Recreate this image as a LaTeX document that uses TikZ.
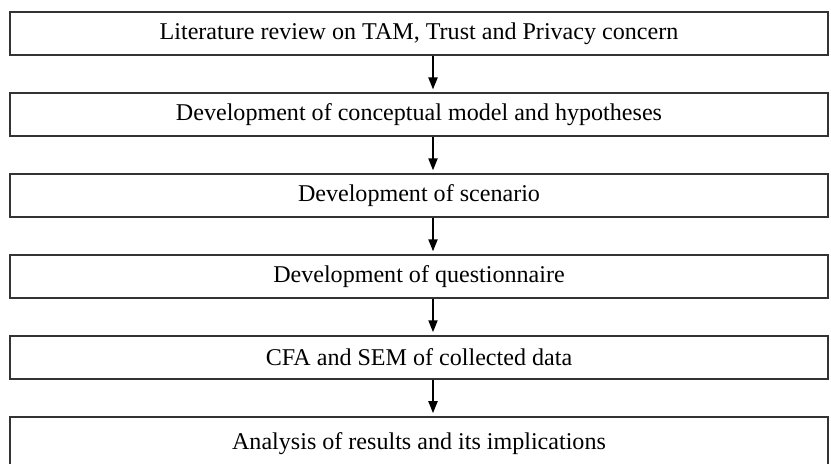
\documentclass[tikz,border=0pt]{standalone}
\usepackage{fontspec}
\setmainfont{Liberation Serif}
\usetikzlibrary{positioning,arrows.meta}
\begin{document}
\begin{tikzpicture}[
        node distance=0.72cm,
        box/.style={rectangle, draw=black!80, line width=1.1pt, minimum width=16.36cm, minimum height=0.86cm, font=\fontsize{13.7}{16}\selectfont},
        arrow/.style={-{Triangle[length=2.4mm,width=1.8mm]}, line width=1.1pt}
    ]
        \useasboundingbox (0,0) rectangle (16.62,9.26);
        \node[box] (review) at (8.38,8.59) {Literature review on TAM, Trust and Privacy concern};
        \node[box, below=of review] (model) {Development of conceptual model and hypotheses};
        \node[box, below=of model] (scenario) {Development of scenario};
        \node[box, below=of scenario] (questionnaire) {Development of questionnaire};
        \node[box, below=of questionnaire] (cfa) {CFA and SEM of collected data};
        \node[box, below=of cfa, minimum height=1.06cm] (analysis) {Analysis of results and its implications};

        \draw[arrow] ([xshift=0.28cm]review.south) -- ([xshift=0.28cm, yshift=0.05cm]model.north);
        \draw[arrow] ([xshift=0.28cm]model.south) -- ([xshift=0.28cm, yshift=0.05cm]scenario.north);
        \draw[arrow] ([xshift=0.28cm]scenario.south) -- ([xshift=0.28cm, yshift=0.05cm]questionnaire.north);
        \draw[arrow] ([xshift=0.28cm]questionnaire.south) -- ([xshift=0.28cm, yshift=0.05cm]cfa.north);
        \draw[arrow] ([xshift=0.28cm]cfa.south) -- ([xshift=0.28cm, yshift=0.05cm]analysis.north);
    \end{tikzpicture}
\end{document}
